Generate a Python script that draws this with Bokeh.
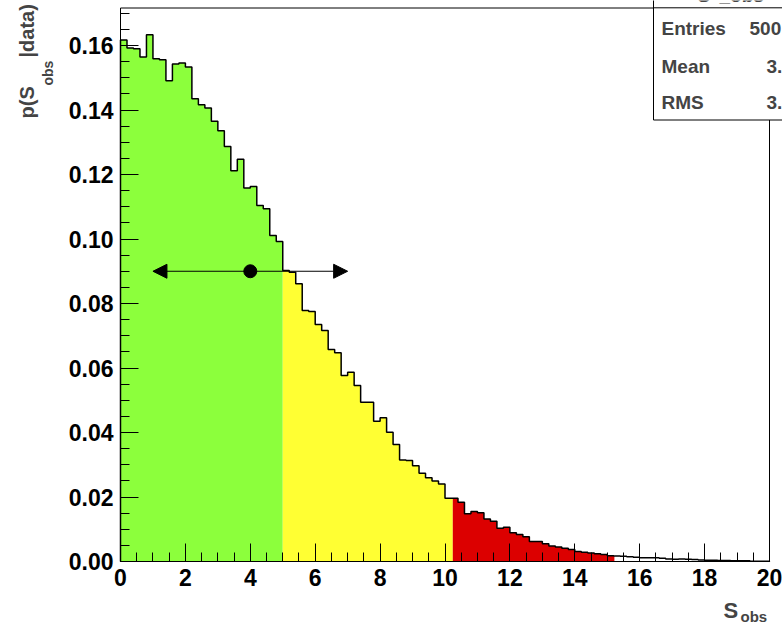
import numpy as np
from bokeh.plotting import figure
from bokeh.models import (Range1d, SingleIntervalTicker, PrintfTickFormatter,
                          Label, Arrow, NormalHead)
from bokeh.embed import file_html
from bokeh.resources import INLINE

# ---------------- data ----------------
bin_lo, bin_hi, n_bins = 0.0, 20.0, 100
density = [
    0.1617, 0.1592, 0.1590, 0.1564, 0.1633, 0.1559, 0.1556, 0.1491, 0.1543, 0.1546,
    0.1533, 0.1435, 0.1416, 0.1406, 0.1365, 0.1336, 0.1287, 0.1212, 0.1247, 0.1158,
    0.1163, 0.1104, 0.1094, 0.1011, 0.0992, 0.0902, 0.0897, 0.0861, 0.0778, 0.0775,
    0.0735, 0.0716, 0.0657, 0.0647, 0.0577, 0.0587, 0.0546, 0.0494, 0.0494, 0.0435,
    0.0446, 0.0401, 0.0363, 0.0315, 0.0313, 0.0297, 0.0274, 0.0260, 0.0250, 0.0240,
    0.0196, 0.0196, 0.0184, 0.0148, 0.0155, 0.0151, 0.0132, 0.0125, 0.0103, 0.0106,
    0.0089, 0.0084, 0.0077, 0.0062, 0.0062, 0.0055, 0.0048, 0.0045, 0.0041, 0.0037,
    0.0031, 0.0029, 0.0026, 0.0024, 0.0022, 0.0018, 0.0017, 0.0016, 0.0015, 0.0013,
    0.0012, 0.0012, 0.0012, 0.0010, 0.0008, 0.0007, 0.0008, 0.0007, 0.0006, 0.0005,
    0.0004, 0.0004, 0.0003, 0.0003, 0.0002, 0.0002, 0.0002, 0.0001, 0.0001, 0.0001,
]
region_bounds = [0.0, 5.0, 10.24, 15.22]
region_colors = ["#8CFF3C", "#FFFF33", "#DC0000"]
interval_lo, interval_mid, interval_hi, interval_y = 1.0, 4.0, 7.0, 0.09
stats_names = ["Entries", "Mean", "RMS"]
stats_values = ["500", "3.", "3."]

# ---------------- geometry helpers (annotation placement) ----------------
W, H = 782, 623
X0PX, Y0PX = 120, 561          # pixel position of data origin
XS = 649.0 / 20.0              # px per x unit
YS = 3225.0                    # px per y unit
def dx(px):
    return (px - X0PX) / XS
def dy(py):
    return (Y0PX - py) / YS

FONT = "Liberation Sans"

p = figure(width=W, height=H, output_backend="svg", toolbar_location=None,
           x_range=Range1d(dx(0), dx(W)), y_range=Range1d(dy(H), dy(0)),
           min_border_left=0, min_border_right=0, min_border_top=0,
           min_border_bottom=0)
p.outline_line_color = None
p.xgrid.visible = False
p.ygrid.visible = False
p.background_fill_color = "white"
p.border_fill_color = "white"

edges = np.linspace(bin_lo, bin_hi, n_bins + 1)
vals = np.array(density)

# coloured fills (one step polygon per region)
for i, c in enumerate(region_colors):
    lo, hi = region_bounds[i], region_bounds[i + 1]
    left = np.clip(edges[:-1], lo, hi)
    right = np.clip(edges[1:], lo, hi)
    m = right > left
    l, r, v = left[m], right[m], vals[m]
    px_ = np.concatenate([[l[0]], np.column_stack([l, r]).ravel(), [r[-1]]])
    py_ = np.concatenate([[0.0], np.repeat(v, 2), [0.0]])
    p.patch(px_, py_, fill_color=c, line_color=None)

# histogram outline
xs = np.repeat(edges, 2)
ys = np.concatenate([[0.0], np.repeat(vals, 2), [0.0]])
p.line(xs, ys, line_color="black", line_width=1.5)

# frame
frame_top = dy(7.5)
p.quad(left=0, right=bin_hi, bottom=0, top=frame_top, fill_color=None,
       line_color="black", line_width=1)

# interval arrow and point
for xe in (interval_lo, interval_hi):
    p.add_layout(Arrow(x_start=interval_mid, x_end=xe, y_start=interval_y, y_end=interval_y,
                       end=NormalHead(size=14, fill_color="black", line_color="black"),
                       line_color="black", line_width=1.2))
p.scatter([interval_mid], [interval_y], size=13, color="black")

# stats box
p.quad(left=dx(653), right=dx(W) + 1, bottom=dy(119.5), top=dy(0) + 0.01,
       fill_color="white", line_color="black", line_width=1)
p.line([dx(653), dx(W) + 1], [dy(7.3), dy(7.3)], line_color="black", line_width=1)

def lab(px, py, text, size, angle=0.0):
    p.add_layout(Label(x=dx(px), y=dy(py), text=text, text_font=FONT,
                       text_font_style="bold", text_font_size=size,
                       text_align="left", text_baseline="middle",
                       angle=angle))

for k, (nm, vv) in enumerate(zip(stats_names, stats_values)):
    cy = [28.3, 66.3, 101.5][k]
    vx = [749, 766, 766][k]
    lab(661, cy, nm, "19px")
    lab(vx, cy, vv, "19px")
lab(697, -5.5, "S", "19px")
lab(719, -5.5, "_obs", "19px")

# axes drawn at the data origin
p.xaxis.fixed_location = 0
p.yaxis.fixed_location = 0
p.xaxis.ticker = SingleIntervalTicker(interval=2, num_minor_ticks=4)
p.yaxis.ticker = SingleIntervalTicker(interval=0.02, num_minor_ticks=4)
p.xaxis.formatter = PrintfTickFormatter(format="%d")
p.yaxis.formatter = PrintfTickFormatter(format="%.2f")
p.xaxis.bounds = (bin_lo, bin_hi)
p.yaxis.bounds = (0, frame_top)
for ax in (p.xaxis[0], p.yaxis[0]):
    ax.major_tick_in = 18
    ax.major_tick_out = 0
    ax.minor_tick_in = 9
    ax.minor_tick_out = 0
    ax.axis_line_color = "black"
    ax.major_tick_line_color = "black"
    ax.minor_tick_line_color = "black"
    ax.major_label_text_font = FONT
    ax.major_label_text_font_style = "bold"
    ax.major_label_text_font_size = "23px"
    ax.major_label_text_color = "black"
    ax.major_label_standoff = 7

# axis titles (with subscripts)
lab(723, 610, "S", "22px")
lab(740, 616, "obs", "15px")
lab(26, 118, "p(S", "20px", np.pi / 2)
lab(47, 85, "obs", "14px", np.pi / 2)
lab(26, 57, "|data)", "20px", np.pi / 2)

open("out.html", "w").write(file_html(p, INLINE))
